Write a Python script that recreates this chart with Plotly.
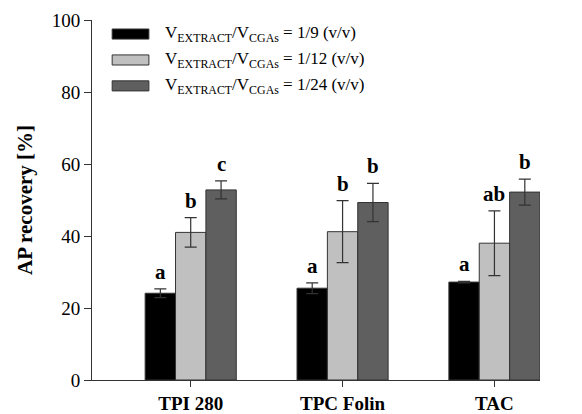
import plotly.graph_objects as go

categories = ["TPI 280", "TPC Folin", "TAC"]
series_names = [
    "V<sub>EXTRACT</sub>/V<sub>CGAs</sub> = 1/9 (v/v)",
    "V<sub>EXTRACT</sub>/V<sub>CGAs</sub> = 1/12 (v/v)",
    "V<sub>EXTRACT</sub>/V<sub>CGAs</sub> = 1/24 (v/v)",
]
values_1_9 = [24.1, 25.5, 27.2]
values_1_12 = [41.0, 41.2, 38.0]
values_1_24 = [52.8, 49.3, 52.2]
err_1_9 = [1.2, 1.5, 0.2]
err_1_12 = [4.1, 8.6, 9.0]
err_1_24 = [2.5, 5.3, 3.6]
letters_1_9 = ["a", "a", "a"]
letters_1_12 = ["b", "b", "ab"]
letters_1_24 = ["c", "b", "b"]

colors = ["#000000", "#c0c0c0", "#5f5f5f"]
values = [values_1_9, values_1_12, values_1_24]
errs = [err_1_9, err_1_12, err_1_24]
letters = [letters_1_9, letters_1_12, letters_1_24]

serif = "Liberation Serif"

fig = go.Figure()
for k in range(3):
    fig.add_trace(go.Bar(
        x=categories, y=values[k], name=series_names[k],
        marker=dict(color=colors[k], line=dict(color="#333333", width=1)),
        error_y=dict(type="data", array=errs[k], visible=True,
                     color="#333333", thickness=1.2, width=6),
        showlegend=False,
    ))

offsets = [-0.2, 0.0, 0.2]
annotations = []
for k in range(3):
    for i in range(len(categories)):
        annotations.append(dict(
            x=i + offsets[k], y=values[k][i] + errs[k][i], xref="x", yref="y",
            text="<b>" + letters[k][i] + "</b>", showarrow=False, yanchor="bottom", yshift=3,
            font=dict(family=serif, size=21, color="black"),
        ))

# manual legend
shapes = []
legend_y = [0.961, 0.889, 0.817]
for k in range(3):
    shapes.append(dict(type="rect", xref="paper", yref="paper",
                       x0=0.045, x1=0.127, y0=legend_y[k] - 0.014, y1=legend_y[k] + 0.014,
                       fillcolor=colors[k], line=dict(color="#333333", width=1)))
    annotations.append(dict(x=0.158, y=legend_y[k], xref="paper", yref="paper",
                            text=series_names[k], showarrow=False,
                            xanchor="left", yanchor="middle",
                            font=dict(family=serif, size=17, color="black")))

# page body has an 8px default margin, so the figure is sized/offset to compensate
fig.update_layout(
    width=574, height=406,
    margin=dict(l=84, r=42, t=12, b=34),
    plot_bgcolor="white", paper_bgcolor="white",
    barmode="group", bargap=0.4, bargroupgap=0,
    annotations=annotations, shapes=shapes,
    font=dict(family=serif, color="black"),
)
fig.update_xaxes(
    range=[-0.65, 2.3], showline=True, linecolor="#333333", linewidth=1,
    ticks="outside", ticklen=6, tickcolor="#333333",
    tickvals=list(range(len(categories))), ticktext=["<b>" + c + "</b>" for c in categories],
    tickfont=dict(family=serif, size=19, color="black"),
    ticklabelstandoff=0,
    showgrid=False, zeroline=False, automargin=False,
)
fig.update_yaxes(
    range=[0, 100], tickvals=[0, 20, 40, 60, 80, 100],
    showline=True, linecolor="#333333", linewidth=1,
    ticks="outside", ticklen=7, tickcolor="#333333",
    tickfont=dict(family=serif, size=19, color="black"),
    title=dict(text="<b>AP recovery [%]</b>", font=dict(family=serif, size=21, color="black"), standoff=13),
    showgrid=False, zeroline=False, automargin=False,
)

fig.write_html("out.html")
